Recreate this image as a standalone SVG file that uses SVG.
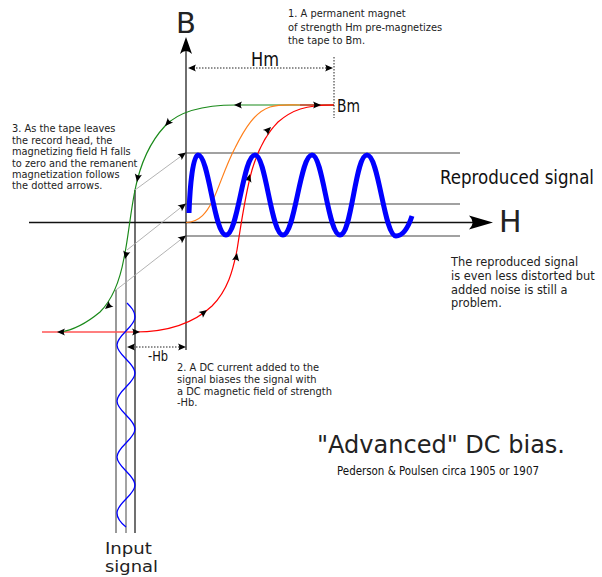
<svg xmlns="http://www.w3.org/2000/svg" xmlns:xlink="http://www.w3.org/1999/xlink" width="602" height="577" viewBox="0 0 602 577">
<style>
.t{font-family:"DejaVu Sans","Liberation Sans",sans-serif;fill:#222}
.c{font-family:"DejaVu Sans Condensed","DejaVu Sans","Liberation Sans Narrow",sans-serif;font-stretch:condensed;fill:#111}
.lvl{stroke:#444;stroke-width:1.2;fill:none}
.dot{stroke:#222;stroke-width:1;stroke-dasharray:1.5,1.5;fill:none}
.gr{stroke:#aaa;stroke-width:0.9;fill:none}
.ah{fill:#000}
</style>
<defs>
<path id="a" d="M0,0 L-8,-3.6 Q-5.5,0 -8,3.6 Z"/>
<path id="big" d="M0,0 L-24,-7 Q-17,0 -24,7 Z"/>
<path id="bigv" d="M0,0 L-6,17 Q0,11 6,17 Z"/>
</defs>
<rect width="602" height="577" fill="#fff"/>

<g id="axes">
<line x1="186" y1="45" x2="186" y2="350" stroke="#222" stroke-width="1.3"/>
<use xlink:href="#bigv" transform="translate(186,37)" class="ah"/>
<line x1="29" y1="222.5" x2="476" y2="222.5" stroke="#111" stroke-width="1.3"/>
<use xlink:href="#big" transform="translate(493,222.5)" class="ah"/>
<text class="t" x="176" y="33" font-size="29">B</text>
<text class="t" x="499" y="232" font-size="30">H</text>
</g>

<g id="levels">
<line class="lvl" x1="186" y1="153" x2="460" y2="153"/>
<line class="lvl" x1="186" y1="204" x2="460" y2="204" stroke="#222"/>
<line class="lvl" x1="186" y1="236" x2="460" y2="236" stroke="#222"/>
</g>

<g id="input-lines">
<line x1="116" y1="290" x2="116" y2="533" stroke="#555" stroke-width="1.2"/>
<line x1="126" y1="253" x2="126" y2="533" stroke="#666" stroke-width="1.2"/>
<line x1="135" y1="190" x2="135" y2="533" stroke="#111" stroke-width="1.2"/>
</g>

<g id="connectors">
<path d="M42,332 H135" stroke="#f55" stroke-width="1.3" fill="none"/>
<path d="M334,105 H236 C205,105 180,110 165,126 C150,142 140,165 135,190 C130,215 128,240 124,258 C120,280 112,300 100,312 C88,322 75,330 60,332" stroke="#1a8a1a" stroke-width="1.2" fill="none"/>
<path d="M186,222.5 C200,222 207,212 213,200 C220,185 226,165 235,148 C245,128 255,112 270,107 C280,104 290,105 300,105" stroke="#ff7f1a" stroke-width="1.2" fill="none"/>
<path d="M135,332 C170,332 195,322 212,306 C228,290 233,270 237,250 C241,225 245,195 252,170 C258,150 265,135 278,122 C292,110 305,105 334,105" stroke="#f00" stroke-width="1.2" fill="none"/>
<path d="M300,105 H334" stroke="#f00" stroke-width="1.2"/>

<line class="gr" x1="135" y1="190" x2="184" y2="154"/>
<line class="gr" x1="127" y1="250" x2="184" y2="205"/>
<line class="gr" x1="116" y1="290" x2="184" y2="237"/>
<use xlink:href="#a" class="ah" transform="translate(186,152.5) rotate(-36)"/>
<use xlink:href="#a" class="ah" transform="translate(186,203.5) rotate(-38)"/>
<use xlink:href="#a" class="ah" transform="translate(186,235.5) rotate(-38)"/>

<use xlink:href="#a" class="ah" transform="translate(234,105) rotate(180)"/>
<use xlink:href="#a" class="ah" transform="translate(165,126) rotate(133)"/>
<use xlink:href="#a" class="ah" transform="translate(137,182) rotate(100)"/>
<use xlink:href="#a" class="ah" transform="translate(125,259) rotate(103)"/>
<use xlink:href="#a" class="ah" transform="translate(105,309) rotate(140)"/>
<use xlink:href="#a" class="ah" transform="translate(57,332) rotate(180)"/>
<use xlink:href="#a" class="ah" transform="translate(140,332) rotate(0)"/>
<use xlink:href="#a" class="ah" transform="translate(207,310) rotate(-38)"/>
<use xlink:href="#a" class="ah" transform="translate(237,253) rotate(-80)"/>
<use xlink:href="#a" class="ah" transform="translate(250,174) rotate(-75)"/>
<use xlink:href="#a" class="ah" transform="translate(271,127) rotate(-45)"/>
<use xlink:href="#a" class="ah" transform="translate(321,105) rotate(0)"/>

<line class="dot" x1="190" y1="68" x2="330" y2="68"/>
<use xlink:href="#a" class="ah" transform="translate(188,68) rotate(180)"/>
<use xlink:href="#a" class="ah" transform="translate(333,68)"/>
<line class="dot" x1="334" y1="57" x2="334" y2="118"/>
<line class="dot" x1="130" y1="347" x2="183" y2="347"/>
<use xlink:href="#a" class="ah" transform="translate(127,347) rotate(180)"/>
<use xlink:href="#a" class="ah" transform="translate(186,347)"/>
</g>

<g id="reproduced-wave">
<path d="M189,213 C190,185 193,155 198,155 C209,155 214,235 226,235 C238,235 243,155 255,155 C266,155 271,235 283,235 C295,235 300,155 312,155 C323,155 328,235 340,235 C352,235 355,155 367,155 C379,155 384,236 396,236 C403,236 408,228 412,216" stroke="#00f" stroke-width="5" fill="none"/>
</g>

<g id="input-wave">
<path d="M127,303 C131,307 135,311 135,317 C135,327 117,335 117,345 C117,355 135,363 135,373 C135,383 117,391 117,401 C117,411 135,419 135,429 C135,439 117,447 117,457 C117,467 135,475 135,485 C135,495 117,503 117,513 C117,519 121,523 126,527" stroke="#00f" stroke-width="1.3" fill="none"/>
</g>

<g id="labels">
<text class="c" x="251" y="66" font-size="19" textLength="28" lengthAdjust="spacingAndGlyphs">Hm</text>
<text class="c" x="337" y="112" font-size="18" textLength="23" lengthAdjust="spacingAndGlyphs">Bm</text>
<text class="c" x="148" y="361" font-size="14" textLength="20" lengthAdjust="spacingAndGlyphs">-Hb</text>
<text class="c" x="440" y="184" font-size="19" textLength="154" lengthAdjust="spacingAndGlyphs">Reproduced signal</text>
<text class="t" x="317" y="453" font-size="24" textLength="248" lengthAdjust="spacingAndGlyphs">"Advanced" DC bias.</text>
<text class="c" x="337" y="475" font-size="12.5" textLength="202" lengthAdjust="spacingAndGlyphs">Pederson &amp; Poulsen circa 1905 or 1907</text>
<text class="t" x="105" y="554" font-size="16.5" textLength="47" lengthAdjust="spacingAndGlyphs">Input</text>
<text class="t" x="105" y="572" font-size="16.5" textLength="53" lengthAdjust="spacingAndGlyphs">signal</text>
</g>

<g id="note1" class="t" font-size="9.85">
<text x="288" y="17">1. A permanent magnet</text>
<text x="288" y="31">of strength Hm pre-magnetizes</text>
<text x="288" y="44">the tape to Bm.</text>
</g>
<g id="note3" class="t" font-size="9.8">
<text x="12" y="132">3. As the tape leaves</text>
<text x="12" y="143.5">the record head, the</text>
<text x="12" y="155">magnetizing field H falls</text>
<text x="12" y="166.5">to zero and the remanent</text>
<text x="12" y="177.5">magnetization follows</text>
<text x="12" y="189">the dotted arrows.</text>
</g>
<g id="note2" class="t" font-size="9.9">
<text x="177" y="371">2. A DC current added to the</text>
<text x="177" y="383">signal biases the signal with</text>
<text x="177" y="394.5">a DC magnetic field of strength</text>
<text x="177" y="406">-Hb.</text>
</g>
<g id="note4" class="t" font-size="11.4">
<text x="451" y="266">The reproduced signal</text>
<text x="451" y="280">is even less distorted but</text>
<text x="451" y="293.5">added noise is still a</text>
<text x="451" y="307">problem.</text>
</g>
</svg>
